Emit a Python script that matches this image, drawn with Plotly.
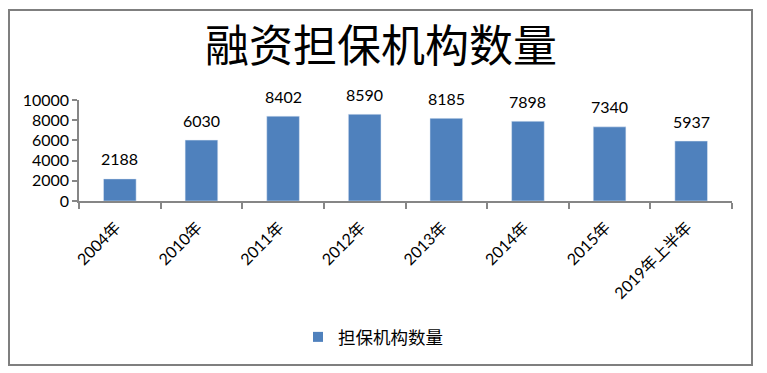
import plotly.graph_objects as go

categories = ["2004年", "2010年", "2011年", "2012年", "2013年", "2014年", "2015年", "2019年上半年"]
values = [2188, 6030, 8402, 8590, 8185, 7898, 7340, 5937]
series_name = "担保机构数量"
title_text = "融资担保机构数量"
y_ticks = [0, 2000, 4000, 6000, 8000, 10000]
y_tick_labels = ["0", "2000", "4000", "6000", "8000", "10000"]

bar_color = "#4F81BD"
axis_color = "#868686"
font_family = "Lato, 'Noto Sans CJK SC', sans-serif"

# page offset of the figure inside the browser (default body margin)
OFF = 8
W, H = 767 - OFF, 373 - OFF
L = 79 - OFF
T = 100 - OFF
R = W - (732 - OFF)
B = H - (201 - OFF)
pw = W - L - R
ph = H - T - B

fig = go.Figure()
fig.add_trace(go.Bar(x=categories, y=values, marker_color=bar_color, showlegend=False, width=0.4))
fig.add_trace(go.Scatter(x=[None], y=[None], mode="markers", name=series_name,
                         marker=dict(symbol="square", size=10, color=bar_color)))

for c, v in zip(categories, values):
    fig.add_annotation(x=c, y=v, text=str(v), showarrow=False, yshift=20, yanchor="middle",
                       font=dict(size=16, color="#000000", family=font_family))

def px_x(p):
    return (p - OFF - L) / pw

def px_y(p):
    return (H - B - (p - OFF)) / ph

fig.add_shape(type="rect", xref="paper", yref="paper",
              x0=px_x(9), x1=px_x(752), y0=px_y(365), y1=px_y(10),
              line=dict(color="#7F7F7F", width=2), fillcolor="rgba(0,0,0,0)", layer="below")

fig.update_layout(
    width=W, height=H,
    margin=dict(l=L, r=R, t=T, b=B, pad=0, autoexpand=False),
    paper_bgcolor="white", plot_bgcolor="white",
    title=dict(text=title_text, x=(381 - OFF) / W, xanchor="center", xref="container",
               y=1 - (47 - OFF) / H, yanchor="middle", yref="container",
               font=dict(size=44, color="#000000", family="'Noto Sans CJK SC', sans-serif")),
    showlegend=True,
    legend=dict(orientation="h", x=(373 - OFF) / W, xanchor="center", xref="container",
                y=1 - (337 - OFF) / H, yanchor="middle", yref="container",
                font=dict(size=17.5, color="#000000", family="'Noto Sans CJK SC', sans-serif"),
                bgcolor="rgba(0,0,0,0)", itemwidth=30),
    xaxis=dict(type="category", tickangle=-45, tickson="boundaries", ticks="outside", ticklen=6,
               tickcolor=axis_color, tickwidth=1.5, showline=True, linecolor=axis_color, linewidth=1.5,
               showgrid=False, tickfont=dict(size=16, color="#000000", family=font_family),
               ticklabelstandoff=9, ticklabelshift=-4,
               range=[-0.5, len(categories) - 0.5], automargin=False),
    yaxis=dict(range=[0, 10000], tickvals=y_ticks, ticktext=y_tick_labels, ticks="outside", ticklen=5,
               tickcolor=axis_color, tickwidth=1.5, showline=True, linecolor=axis_color, linewidth=1.5,
               showgrid=False, zeroline=False, automargin=False,
               tickfont=dict(size=16, color="#000000", family=font_family)),
)

fig.write_html("out.html")
